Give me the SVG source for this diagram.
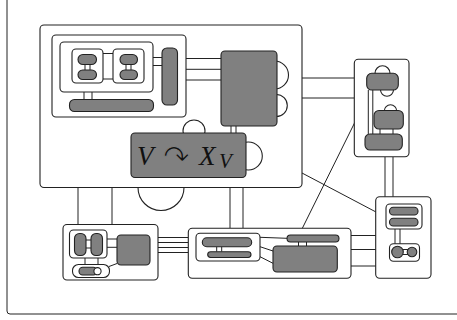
<svg xmlns="http://www.w3.org/2000/svg" width="457" height="320" viewBox="0 0 457 320">
<style>
.box{fill:#fff;stroke:#222;stroke-width:1.1}
.g{fill:#808080;stroke:#222;stroke-width:1.1}
.ln{fill:none;stroke:#222;stroke-width:1}
.arc{fill:#fff;stroke:#222;stroke-width:1.1}
.m{font-family:"Liberation Serif","DejaVu Serif",serif;font-style:italic;fill:#111}
.ar{font-family:"DejaVu Sans",sans-serif;font-style:normal;stroke:#808080;stroke-width:1.1}
</style>
<rect width="457" height="320" fill="#fff"/>
<path class="ln" d="M7,0 V311 Q7,314 10,314 H457" stroke-width="1.2"/>
<g id="connectors">
<path class="ln" d="M78,187 V224 M112,187 V224 M230,187 V228 M243,187 V228"/>
<path class="ln" d="M302,78 H354 M302,98 H354"/>
<path class="ln" d="M385,157 V197 M393,157 V197"/>
<path class="ln" d="M302,173 L376,212"/>
<path class="ln" d="M299,235 L355,122"/>
<path class="ln" d="M158,237.5 H188 M158,242.5 H188 M158,247.5 H188 M158,252.5 H188"/>
<path class="ln" d="M351,235.5 H376 M351,249.5 H376 M351,266 H376"/>
</g>
<circle class="arc" cx="161" cy="187.5" r="23"/>
<g id="A">
<rect class="box" x="40" y="25" width="262" height="162.5" rx="4"/>
<g id="B">
<rect class="box" x="52" y="35" width="134" height="82" rx="4"/>
<path class="ln" d="M153,57.5 H162 M153,65.5 H162 M84,92 V99 M92,92 V99"/>
<g id="C">
<rect class="box" x="60" y="42" width="93" height="50" rx="4"/>
<path class="ln" d="M103,53.5 H113 M103,79 H113"/>
<rect class="box" x="72" y="49" width="31" height="34" rx="4"/>
<rect class="box" x="113" y="49" width="31" height="34" rx="4"/>
<path class="ln" d="M85,64 V70 M90,64 V70 M126,64 V70 M131,64 V70"/>
<rect class="g" x="78" y="54.5" width="18.5" height="10" rx="5"/>
<rect class="g" x="78" y="70" width="18.5" height="9.5" rx="4.75"/>
<rect class="g" x="120" y="54.5" width="17.5" height="10" rx="5"/>
<rect class="g" x="120" y="70" width="17.5" height="9.5" rx="4.75"/>
</g>
<rect class="g" x="162" y="48" width="15.5" height="57" rx="5"/>
<rect class="g" x="69.5" y="99.5" width="84" height="12" rx="5"/>
</g>
<path class="ln" d="M186,58.5 H221 M186,69.3 H221 M186,80 H221"/>
<g id="F">
<circle class="arc" cx="274.5" cy="75" r="14"/>
<circle class="arc" cx="276.3" cy="105.5" r="11"/>
<path class="ln" d="M231,126 V133 M236,126 V133"/>
<rect class="g" x="221" y="51" width="56" height="75" rx="4"/>
</g>
<g id="G">
<circle class="arc" cx="194" cy="131" r="11"/>
<circle class="arc" cx="248.3" cy="156" r="14"/>
<rect class="g" x="131" y="133" width="115" height="44.5" rx="4"/>
<text class="m" font-size="27" y="165"><tspan x="137">V</tspan><tspan class="ar" x="163" y="168" font-size="32">↷</tspan><tspan x="199" y="165">X</tspan><tspan x="219" y="168" font-size="21">V</tspan></text>
</g>
</g>
<g id="H">
<rect class="box" x="63" y="224.5" width="95" height="55.5" rx="4"/>
<path class="ln" d="M107,239 H117 M107,247.3 H117 M85,258 V264 M98,258 V264 M109,266.5 L117,263.5"/>
<rect class="box" x="69.5" y="230" width="37.5" height="28" rx="4"/>
<path class="ln" d="M86,240 H91 M86,248 H91"/>
<rect class="g" x="74.5" y="233.5" width="11.5" height="22" rx="5"/>
<rect class="g" x="91" y="233.5" width="11.5" height="22" rx="5"/>
<rect class="g" x="117" y="235" width="33" height="30" rx="4"/>
<rect class="box" x="72.5" y="264.5" width="37" height="13" rx="6"/>
<rect class="g" x="79" y="267.3" width="18" height="7.7" rx="3.8"/>
<circle class="box" cx="97.5" cy="271.2" r="3.6"/>
</g>
<g id="I">
<rect class="box" x="188.3" y="228.3" width="162.7" height="50" rx="4"/>
<path class="ln" d="M260,237.3 L287,238.3 M260,246.7 L273,251 M260,256.7 L273,263.3 M298.5,241.7 V246 M306.5,241.7 V246"/>
<rect class="box" x="196" y="233.3" width="64" height="27.7" rx="4"/>
<path class="ln" d="M216.7,246.7 V251.7 M221.7,246.7 V251.7"/>
<rect class="g" x="202.3" y="237.7" width="49.4" height="9" rx="4.5"/>
<rect class="g" x="207.7" y="251.7" width="43.3" height="5.8" rx="2.9"/>
<rect class="g" x="287" y="235" width="52" height="7" rx="3.5"/>
<rect class="g" x="273" y="246" width="64.3" height="26" rx="4"/>
</g>
<g id="J">
<rect class="box" x="354.3" y="59.3" width="54.7" height="97.4" rx="4"/>
<path class="ln" d="M368.3,90 V134 M372.8,90 V134 M380,129 V134 M393,129 V134"/>
<circle class="arc" cx="382.5" cy="73.3" r="7.5"/>
<circle class="arc" cx="387" cy="89.8" r="6.5"/>
<rect class="g" x="366.7" y="73.3" width="31.6" height="16.7" rx="5"/>
<circle class="arc" cx="390.5" cy="111" r="6.2"/>
<rect class="g" x="374" y="110.5" width="29.3" height="18.5" rx="5"/>
<rect class="g" x="365" y="134" width="37.3" height="16" rx="5"/>
</g>
<g id="K">
<rect class="box" x="375.7" y="196.7" width="55.3" height="81.6" rx="4"/>
<path class="ln" d="M395,229 V244 M400,229 V244 M401,215 V218 M405,215 V218"/>
<rect class="box" x="386" y="204" width="36" height="25" rx="4"/>
<rect class="g" x="389.5" y="207.3" width="28.5" height="7.7" rx="3.8"/>
<rect class="g" x="389.5" y="218.3" width="28.5" height="7.7" rx="3.8"/>
<rect class="box" x="389.5" y="243.8" width="30" height="17.5" rx="4"/>
<path class="ln" d="M403,249.5 H408 M403,254.5 H408"/>
<circle class="g" cx="397.5" cy="252" r="5.8"/>
<circle class="g" cx="412" cy="252" r="4.8"/>
</g>
</svg>
